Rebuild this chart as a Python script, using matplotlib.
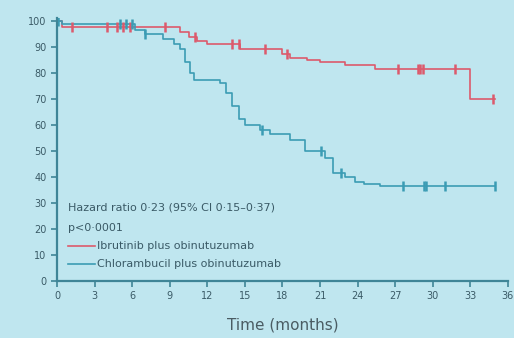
import matplotlib.pyplot as plt

# Kaplan-Meier curves (months, % progression-free)
ibr_t = [0, 0.4, 9.8, 10.5, 11.2, 12.0, 14.6, 18.0, 18.6, 20.0, 21.0, 23.0, 25.4, 33.0, 35.0]
ibr_s = [100, 97.5, 95.5, 93.5, 92, 91, 89, 87, 85.5, 85, 84.2, 83, 81.5, 70, 70]
ibr_cens = [1.2, 4.0, 4.8, 5.3, 5.8, 8.6, 11.0, 14.0, 14.5, 16.6, 18.4, 27.2, 28.8, 29.0, 29.2, 31.8, 34.8]

chl_t = [0, 0.4, 6.2, 7.0, 8.5, 9.3, 9.8, 10.2, 10.6, 10.9, 13.0, 13.5, 14.0, 14.5, 15.0,
         16.2, 17.0, 18.6, 19.8, 21.4, 22.0, 23.0, 23.8, 24.5, 25.8, 35.0]
chl_s = [100, 98.5, 96.5, 95, 93, 91, 89, 84, 80, 77, 76, 72, 67, 62, 60,
         58, 56.5, 54, 50, 47, 41.5, 40, 38, 37, 36.2, 36.2]
chl_cens = [0.05, 5.0, 5.5, 6.0, 7.0, 16.4, 21.1, 22.7, 27.6, 29.3, 29.5, 31.0, 35.0]

x_ticks = list(range(0, 37, 3))
y_ticks = list(range(0, 101, 10))

red = '#dc5a6c'
blue = '#3b9cb4'
axis_col = '#3f8597'
text_col = '#3a5a66'
bg = '#bfe6ef'


def km_at(t, times, surv):
    v = surv[0]
    for ti, si in zip(times, surv):
        if ti <= t:
            v = si
    return v


fig = plt.figure(figsize=(5.14, 3.38), dpi=100)
fig.patch.set_facecolor(bg)
ax = fig.add_axes([0.111, 0.17, 0.877, 0.777])
ax.set_facecolor(bg)

ax.step(ibr_t, ibr_s, where='post', color=red, lw=1.2)
ax.step(chl_t, chl_s, where='post', color=blue, lw=1.2)
ax.plot(ibr_cens, [km_at(t, ibr_t, ibr_s) for t in ibr_cens], ls='none',
        marker='|', ms=7, mew=1.8, color=red)
ax.plot(chl_cens, [km_at(t, chl_t, chl_s) for t in chl_cens], ls='none',
        marker='|', ms=7, mew=1.8, color=blue)

ax.set_xlim(0, 36)
ax.set_ylim(0, 101)
ax.set_xticks(x_ticks)
ax.set_yticks(y_ticks)
ax.tick_params(colors=axis_col, labelcolor=text_col, labelsize=7, length=4, width=1.2)
for s in ['top', 'right']:
    ax.spines[s].set_visible(False)
for s in ['left', 'bottom']:
    ax.spines[s].set_color(axis_col)
    ax.spines[s].set_linewidth(1.6)

ax.set_xlabel('Time (months)', fontsize=11, color='#4a5c63', labelpad=12)

# stats and legend block
ax.text(0.9, 28, 'Hazard ratio 0·23 (95% CI 0·15–0·37)', fontsize=8, color=text_col, va='center')
ax.text(0.9, 20.3, 'p<0·0001', fontsize=8, color=text_col, va='center')
ax.plot([0.9, 3.0], [13.4, 13.4], color=red, lw=1.2)
ax.text(3.2, 13.4, 'Ibrutinib plus obinutuzumab', fontsize=8, color=text_col, va='center')
ax.plot([0.9, 3.0], [6.5, 6.5], color=blue, lw=1.2)
ax.text(3.2, 6.5, 'Chlorambucil plus obinutuzumab', fontsize=8, color=text_col, va='center')

fig.savefig('out.png', dpi=100, facecolor=bg)
